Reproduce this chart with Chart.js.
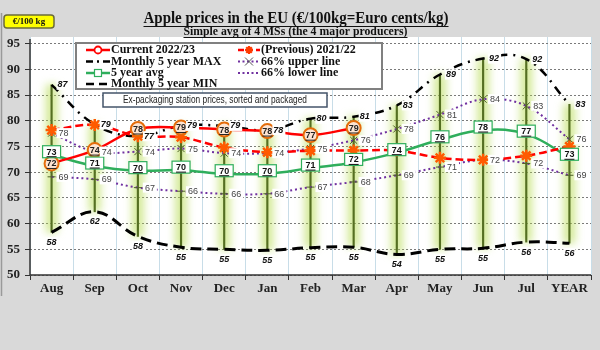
<!DOCTYPE html>
<html>
<head>
<meta charset="utf-8">
<script src="https://cdn.jsdelivr.net/npm/chart.js@4.4.1/dist/chart.umd.min.js"></script>
<style>
  html,body{margin:0;padding:0;background:#d9d9d9;}
  #c{display:block;}
</style>
</head>
<body>
<canvas id="c" width="600" height="350"></canvas>
<script>
const months = ["Aug","Sep","Oct","Nov","Dec","Jan","Feb","Mar","Apr","May","Jun","Jul","YEAR"];
const current = [71.7, 74.3, 78.4, 78.7, 78.3, 78.0, 77.2, 78.6, null, null, null, null, null];
const previous = [78.2, 79.2, 77.0, 76.8, 74.8, 73.9, 74.2, 74.2, 74.2, 72.8, 72.4, 73.2, 75.0];
const avg5 = [73.4, 71.2, 70.3, 70.4, 69.7, 69.7, 70.8, 71.9, 73.8, 76.3, 78.2, 77.4, 72.9];
const upper66 = [77.6, 74.0, 74.0, 74.6, 73.7, 73.7, 74.6, 76.2, 78.4, 81.2, 84.2, 82.9, 76.4];
const lower66 = [69.1, 68.6, 67.0, 66.3, 65.8, 65.8, 67.1, 68.1, 69.4, 71.0, 72.4, 71.7, 69.4];
const max5 = [87.0, 79.3, 77.0, 79.0, 79.0, 78.2, 80.4, 80.8, 83.0, 89.0, 92.1, 92.0, 83.2];
const min5 = [58.3, 62.3, 57.5, 55.4, 55.0, 54.8, 55.3, 55.4, 54.0, 55.0, 55.2, 56.4, 56.2];
const yTicks = [50,55,60,65,70,75,80,85,90,95];

const SERIF='"Liberation Serif", "Times New Roman", serif';
const SANS='"Liberation Sans", Arial, sans-serif';

// min..max range for the high-low sticks
const ranges = months.map((m,i)=>[min5[i], max5[i]]);

// background, white plot area, frame line, axis lines
const bgPlugin = {
  id:"bg",
  beforeDraw(chart){
    const {ctx,chartArea:a}=chart;
    ctx.save();
    ctx.fillStyle="#d9d9d9";
    ctx.fillRect(0,0,chart.width,chart.height);
    ctx.fillStyle="#fff";
    ctx.fillRect(a.left,a.top,a.right-a.left,a.bottom-a.top);
    ctx.strokeStyle="#9a9a9a";
    ctx.lineWidth=1.5;
    ctx.beginPath();ctx.moveTo(1.5,13);ctx.lineTo(1.5,296);ctx.stroke();
    ctx.restore();
  },
  beforeDatasetsDraw(chart){
    const {ctx,chartArea:a}=chart;
    ctx.save();
    ctx.strokeStyle="#333";
    ctx.lineWidth=1.5;
    ctx.beginPath();
    ctx.moveTo(a.left,a.top+2);ctx.lineTo(a.left,a.bottom);ctx.lineTo(a.right,a.bottom);
    ctx.stroke();
    ctx.restore();
  }
};

// blur for the glow behind the sticks
const glowPlugin = {
  id:"glow",
  beforeDatasetDraw(chart,args){
    if(chart.data.datasets[args.index].glow){chart.ctx.save();chart.ctx.filter="blur(4px)";}
  },
  afterDatasetDraw(chart,args){
    if(chart.data.datasets[args.index].glow){chart.ctx.restore();}
  }
};

function underline(ctx,x,y,w,color){
  ctx.strokeStyle=color;ctx.lineWidth=1;
  ctx.beginPath();ctx.moveTo(x-w/2,y);ctx.lineTo(x+w/2,y);ctx.stroke();
}

// data labels
const labelPlugin = {
  id:"labels",
  afterDatasetsDraw(chart){
    const ctx=chart.ctx;
    chart.data.datasets.forEach((ds,i)=>{
      if(!ds.lbl) return;
      const meta=chart.getDatasetMeta(i);
      meta.data.forEach((pt,j)=>{
        const v=ds.data[j];
        if(v==null) return;
        const t=String(Math.round(v));
        const x=pt.x, y=pt.y;
        ctx.save();
        ctx.textBaseline="middle";
        if(ds.lbl==="circle"){
          ctx.font="bold 9px "+SANS;ctx.fillStyle="#222";ctx.textAlign="center";
          ctx.fillText(t,x,y+0.5);
          underline(ctx,x,y+5,ctx.measureText(t).width,"#222");
        } else if(ds.lbl==="box"){
          const by=y-3;
          ctx.fillStyle="#fff";ctx.strokeStyle="#2fae5c";ctx.lineWidth=1.2;
          ctx.fillRect(x-9,by-6,18,12);ctx.strokeRect(x-9,by-6,18,12);
          ctx.font="bold 9px "+SANS;ctx.fillStyle="#111";ctx.textAlign="center";
          ctx.fillText(t,x,by+0.5);
          underline(ctx,x,by+5,ctx.measureText(t).width,"#111");
        } else if(ds.lbl==="max"){
          ctx.font="italic bold 9px "+SANS;ctx.textAlign="left";
          const w=ctx.measureText(t).width;
          ctx.fillStyle="#fff";ctx.fillRect(x+5,y-5,w+3,10);
          ctx.fillStyle="#111";ctx.fillText(t,x+6,y);
        } else if(ds.lbl==="min"){
          ctx.font="italic bold 9px "+SANS;ctx.textAlign="center";
          const w=ctx.measureText(t).width;
          ctx.fillStyle="#fff";ctx.fillRect(x-w/2-1,y+5,w+2,10);
          ctx.fillStyle="#111";ctx.fillText(t,x,y+10);
        } else if(ds.lbl==="side"){
          ctx.font="9px "+SANS;ctx.textAlign="left";
          const w=ctx.measureText(t).width;
          ctx.fillStyle="#fff";ctx.fillRect(x+5,y-5,w+4,10);
          ctx.fillStyle="#444";ctx.fillText(t,x+7,y+0.5);
        }
        ctx.restore();
      });
    });
  }
};

function sample(ctx,x1,x2,y,color,w,dash){
  ctx.save();ctx.strokeStyle=color;ctx.lineWidth=w;ctx.setLineDash(dash||[]);
  ctx.beginPath();ctx.moveTo(x1,y);ctx.lineTo(x2,y);ctx.stroke();ctx.restore();
}

// legend, text box, titles, unit badge
const decoPlugin = {
  id:"deco",
  afterDraw(chart){
    const ctx=chart.ctx;
    ctx.save();
    // legend box
    ctx.fillStyle="#fff";ctx.fillRect(76,43,306,46);
    ctx.strokeStyle="#808080";ctx.lineWidth=2;ctx.strokeRect(76,43,306,46);
    const L=[86,110], R=[238,260];
    const rows=[50,61.5,73,84];
    sample(ctx,L[0],L[1],rows[0],"#ff0000",2.5);
    ctx.beginPath();ctx.arc(98,rows[0],3.5,0,Math.PI*2);ctx.fillStyle="#fff";ctx.fill();
    ctx.strokeStyle="#ff0000";ctx.lineWidth=1.8;ctx.stroke();
    sample(ctx,L[0],L[1],rows[1],"#000",2.5,[7,4,2,4]);
    sample(ctx,L[0],L[1],rows[2],"#2fae5c",2.5);
    ctx.fillStyle="#fff";ctx.fillRect(94.5,rows[2]-3.5,7,7);
    ctx.strokeStyle="#2fae5c";ctx.lineWidth=1.2;ctx.strokeRect(94.5,rows[2]-3.5,7,7);
    sample(ctx,L[0],L[1],rows[3],"#000",2.5,[8,5]);
    sample(ctx,R[0],R[1],rows[0],"#ff0000",2.5,[6,3]);
    ctx.strokeStyle="#ff3a00";ctx.lineWidth=2.2;
    ctx.beginPath();
    for(let k=0;k<4;k++){const an=k*Math.PI/4;ctx.moveTo(249-4*Math.cos(an),rows[0]-4*Math.sin(an));ctx.lineTo(249+4*Math.cos(an),rows[0]+4*Math.sin(an));}
    ctx.stroke();
    sample(ctx,R[0],R[1],rows[1],"#7030a0",2,[2,2.5]);
    ctx.strokeStyle="#555";ctx.lineWidth=1;
    ctx.beginPath();ctx.moveTo(245,rows[1]-4);ctx.lineTo(253,rows[1]+4);ctx.moveTo(245,rows[1]+4);ctx.lineTo(253,rows[1]-4);ctx.stroke();
    sample(ctx,R[0],R[1],rows[2],"#7030a0",2,[2,2.5]);
    ctx.font="bold 12px "+SERIF;ctx.fillStyle="#111";ctx.textBaseline="middle";ctx.textAlign="left";
    ctx.fillText("Current 2022/23",111,rows[0]);
    ctx.fillText("Monthly 5 year MAX",111,rows[1]);
    ctx.fillText("5 year avg",111,rows[2]);
    ctx.fillText("Monthly 5 year MIN",111,rows[3]);
    ctx.fillText("(Previous) 2021/22",261,rows[0]);
    ctx.fillText("66% upper line",261,rows[1]);
    ctx.fillText("66% lower line",261,rows[2]);

    // note box
    ctx.fillStyle="#fff";ctx.fillRect(103,93,224,14);
    ctx.strokeStyle="#44546a";ctx.lineWidth=1.5;ctx.strokeRect(103,93,224,14);
    ctx.font="10.5px "+SANS;ctx.fillStyle="#222";ctx.textAlign="center";
    ctx.fillText("Ex-packaging station prices, sorted and packaged",215,100.5,184);

    // titles
    ctx.fillStyle="#111";
    ctx.font="bold 16px "+SERIF;
    const t1="Apple prices in the EU (€/100kg=Euro cents/kg)";
    let w1=Math.min(ctx.measureText(t1).width,305);
    ctx.fillText(t1,296,19,305);
    underline(ctx,296,26.5,w1,"#111");
    ctx.font="bold 12px "+SERIF;
    const t2="Simple avg of 4 MSs (the 4 major producers)";
    let w2=Math.min(ctx.measureText(t2).width,224);
    ctx.fillText(t2,295.5,32,224);
    underline(ctx,295.5,37.5,w2,"#111");

    // unit badge
    ctx.fillStyle="#ffff00";ctx.strokeStyle="#6b6b3a";ctx.lineWidth=1.5;
    ctx.beginPath();ctx.roundRect(4,15,50,13,3);ctx.fill();ctx.stroke();
    ctx.font="bold 9px "+SERIF;ctx.fillStyle="#111";
    ctx.fillText("€/100 kg",29,21.5);
    ctx.restore();
  }
};

new Chart(document.getElementById("c"),{
  type:"line",
  data:{
    labels:months,
    datasets:[
      {label:"Current 2022/23",data:current,lbl:"circle",order:0,
       borderColor:"#ff0000",borderWidth:2.5,tension:0.35,
       pointStyle:"circle",pointRadius:7,pointBackgroundColor:"#fde4d2",pointBorderColor:"#e46c0a",pointBorderWidth:2},
      {label:"(Previous) 2021/22",data:previous,order:1,
       borderColor:"#ff0000",borderWidth:2.5,borderDash:[8,4],tension:0.35,
       pointStyle:"star",pointRadius:6,pointBorderColor:"#ff5a00",pointBackgroundColor:"#ff5a00",pointBorderWidth:2.5},
      {label:"5 year avg",data:avg5,lbl:"box",order:2,
       borderColor:"#2fae5c",borderWidth:2.5,tension:0.4,pointRadius:0},
      {label:"66% upper line",data:upper66,lbl:"side",order:3,
       borderColor:"#7030a0",borderWidth:2,borderDash:[2,3],tension:0.35,
       pointStyle:"crossRot",pointRadius:5,pointBorderColor:"#4f6228",pointBorderWidth:1},
      {label:"66% lower line",data:lower66,lbl:"side",order:4,
       borderColor:"#7030a0",borderWidth:2,borderDash:[2,3],tension:0.35,
       pointStyle:"line",pointRadius:4,pointBorderColor:"#4f6228",pointBorderWidth:1},
      {label:"Monthly 5 year MAX",data:max5,lbl:"max",order:5,
       borderColor:"#000",borderWidth:2.5,borderDash:[9,6,2,6],tension:0.4,pointRadius:0},
      {label:"Monthly 5 year MIN",data:min5,lbl:"min",order:6,
       borderColor:"#000",borderWidth:3,borderDash:[11,6],tension:0.4,pointRadius:0},
      {type:"bar",label:"stick",data:ranges,order:7,grouped:false,
       backgroundColor:"#556f22",barThickness:1.5,borderWidth:0},
      {type:"bar",label:"glow",data:ranges,order:8,grouped:false,glow:true,
       backgroundColor:"rgba(182,220,80,0.62)",barThickness:11,borderWidth:0}
    ]
  },
  options:{
    responsive:false,
    animation:false,
    layout:{padding:{top:37,left:0,right:0,bottom:0}},
    plugins:{legend:{display:false},tooltip:{enabled:false}},
    scales:{
      x:{
        offset:true,
        grid:{offset:true,color:"#c8dde8",lineWidth:1,tickColor:"#333",tickLength:5},
        border:{display:false},
        ticks:{font:{family:SERIF,size:13,weight:"bold"},color:"#222",padding:1,maxRotation:0,autoSkip:false},
        afterFit(s){s.height=75;}
      },
      y:{
        min:50,max:96.3,
        afterBuildTicks(s){s.ticks=yTicks.map(v=>({value:v}));},
        grid:{color:"#7a7a7a",lineWidth:1,tickColor:"#333",tickLength:5,borderDash:[2,2]},
        border:{display:false,dash:[2,2]},
        ticks:{font:{family:SERIF,size:13,weight:"bold"},color:"#222",padding:5},
        afterFit(s){s.width=30;}
      }
    }
  },
  plugins:[bgPlugin,glowPlugin,labelPlugin,decoPlugin]
});
</script>
</body>
</html>
